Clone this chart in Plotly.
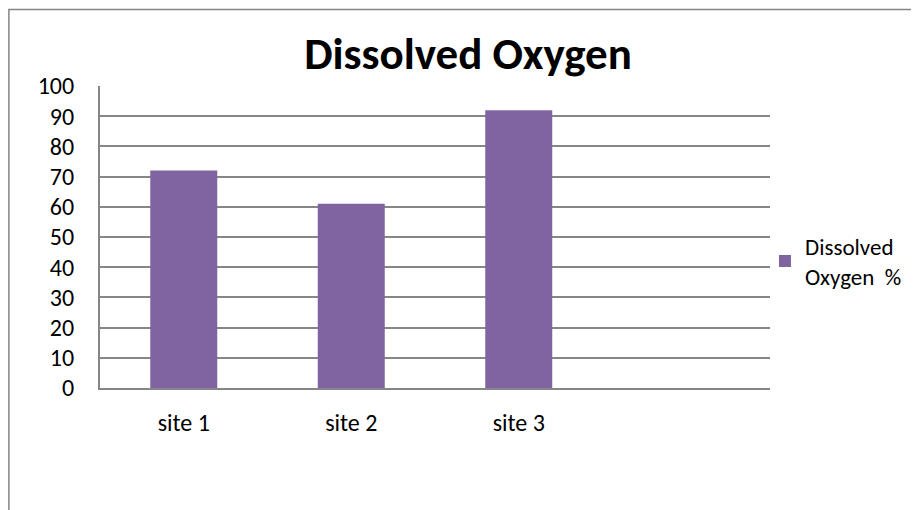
import plotly.graph_objects as go

categories = ["site 1", "site 2", "site 3"]
values = [72, 61, 92]
series_name = "Dissolved<br>Oxygen  %"
title_text = "Dissolved Oxygen"
y_ticks = list(range(0, 101, 10))

FONT = "Carlito, Calibri, Lato, sans-serif"
GRID = "#868686"

fig = go.Figure()
fig.add_trace(go.Bar(
    x=categories, y=values, name=series_name,
    marker=dict(color="#8064A2", line=dict(width=0)),
    width=0.4, showlegend=True,
))

fig.update_layout(
    width=911, height=502,
    margin=dict(l=92, r=149, t=78, b=122),
    paper_bgcolor="white", plot_bgcolor="white",
    font=dict(family=FONT, size=24, color="black"),
    title=dict(text="<b>" + title_text + "</b>", x=0.505, xanchor="center",
               y=0.91, yanchor="middle",
               font=dict(family=FONT, size=45, color="black")),
    showlegend=True,
    legend=dict(x=0.9925, xanchor="left", y=0.42, yanchor="middle",
                font=dict(family=FONT, size=23), bgcolor="rgba(0,0,0,0)",
                itemwidth=30, tracegroupgap=0),
    bargap=0.6,
)
fig.update_xaxes(
    type="category", range=[-0.5, 3.5],
    showline=True, linecolor=GRID, linewidth=2,
    showgrid=False, ticks="", ticklabelstandoff=12,
    tickfont=dict(family=FONT, size=24),
)
fig.update_yaxes(
    range=[0, 100], tickvals=y_ticks,
    showline=True, linecolor=GRID, linewidth=2,
    showgrid=True, gridcolor=GRID, gridwidth=1.5,
    zeroline=False, ticks="", ticklabelstandoff=19,
    tickfont=dict(family=FONT, size=24),
)
fig.add_shape(type="rect", xref="paper", yref="paper",
              x0=-0.136, x1=1.2134, y0=-0.6, y1=1.253,
              line=dict(color=GRID, width=1.5), layer="below")

fig.write_html("out.html")
